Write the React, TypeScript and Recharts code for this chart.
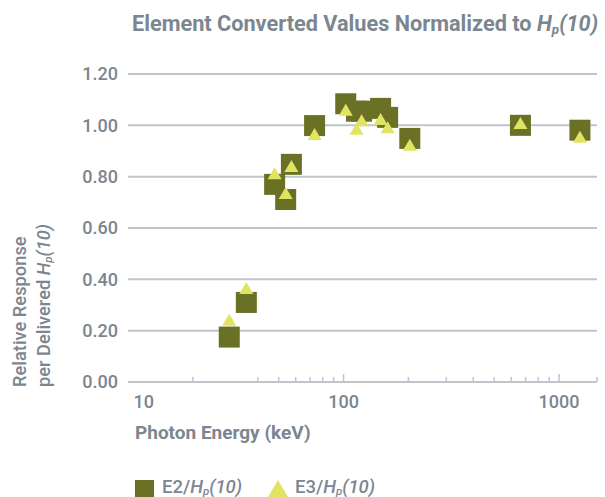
import { ScatterChart, Scatter, XAxis, YAxis, CartesianGrid } from 'recharts';

const energies = [29.5, 35.4, 47.9, 53.9, 57.3, 73.4, 102.4, 114.9, 121.3, 148.6, 160.2, 203, 662, 1250];
const e2Values = [0.175, 0.31, 0.77, 0.711, 0.848, 0.999, 1.084, 1.055, 1.055, 1.066, 1.031, 0.949, 1.0, 0.981];
const e3Values = [0.235, 0.358, 0.806, 0.729, 0.834, 0.958, 1.053, 0.979, 1.012, 1.017, 0.985, 0.917, 1.001, 0.948];
const xTicks = [10, 20, 40, 50, 60, 70, 80, 90, 100, 200, 300, 400, 500, 600, 700, 800, 900, 1000, 1500];
const xLabels = [10, 100, 1000];
const xMajor = [100, 1000];
const yTicks = [0, 0.2, 0.4, 0.6, 0.8, 1.0, 1.2];

const e2Data = energies.map((x, i) => ({ x, y: e2Values[i] }));
const e3Data = energies.map((x, i) => ({ x, y: e3Values[i] }));

const TEXT = '#7b8691';
const GRID = '#bec5cc';
const OLIVE = '#6b7124';
const LIME = '#e1e463';
const FONT = 'Roboto, sans-serif';

const Square = ({ cx, cy }: any) => <rect x={cx - 10.5} y={cy - 10.5} width={21} height={21} fill={OLIVE} />;
const Tri = ({ cx, cy }: any) => (
  <polygon points={`${cx - 7},${cy + 4} ${cx + 7},${cy + 4} ${cx},${cy - 8}`} fill={LIME} />
);

const XTick = ({ x, y, payload }: any) => {
  const v = payload.value;
  const major = xMajor.includes(v);
  return (
    <g>
      {v !== 10 && <line x1={x} x2={x} y1={y} y2={y - (major ? 8 : 5)} stroke={GRID} strokeWidth={1.5} />}
      {xLabels.includes(v) && (
        <text x={v === 10 ? x + 5.5 : x} y={y + 26} textAnchor={v === 10 ? 'start' : 'middle'} fill={TEXT} fontSize={18} fontWeight={500} fontFamily={FONT}>
          {v}
        </text>
      )}
    </g>
  );
};

const Hp = ({ size }: { size: number }) => (
  <>
    <tspan fontStyle="italic">H</tspan>
    <tspan fontStyle="italic" fontSize={size * 0.62} dy={size * 0.12}>p</tspan>
    <tspan fontStyle="italic" dy={-size * 0.12}>(10)</tspan>
  </>
);

export default function App() {
  return (
    <div style={{ position: 'absolute', left: 0, top: 0, width: 605, height: 497, background: '#fff', overflow: 'hidden' }}>
      <ScatterChart width={605} height={497} margin={{ top: 74, right: 8, bottom: 85, left: 0 }}>
        <CartesianGrid vertical={false} stroke={GRID} strokeWidth={2} />
        <XAxis
          dataKey="x"
          type="number"
          scale="log"
          domain={[10, 1500]}
          ticks={xTicks}
          interval={0}
          allowDataOverflow
          height={30}
          tickSize={0}
          tickMargin={0}
          tickLine={false}
          axisLine={{ stroke: GRID, strokeWidth: 2 }}
          tick={<XTick />}
        />
        <YAxis
          dataKey="y"
          type="number"
          domain={[0, 1.2]}
          ticks={yTicks}
          width={128}
          tickSize={10}
          tickMargin={0}
          tickLine={false}
          axisLine={false}
          tickFormatter={(v: number) => v.toFixed(2)}
          tick={{ fill: TEXT, fontSize: 18, fontWeight: 500, fontFamily: FONT }}
        />
        <Scatter data={e2Data} shape={<Square />} isAnimationActive={false} />
        <Scatter data={e3Data} shape={<Tri />} isAnimationActive={false} />
      </ScatterChart>
      <svg width={605} height={497} style={{ position: 'absolute', left: 0, top: 0, pointerEvents: 'none' }} fontFamily={FONT}>
        <text x={132} y={31} fill={TEXT} fontSize={21.7} fontWeight={700}>
          Element Converted Values Normalized to <Hp size={21.7} />
        </text>
        <g transform="rotate(-90)" fill={TEXT} fontSize={18.3} fontWeight={500}>
          <text x={-387} y={26}>Relative Response</text>
          <text x={-387} y={50}>
            per Delivered <Hp size={18.3} />
          </text>
        </g>
        <text x={135} y={439} fill={TEXT} fontSize={19} fontWeight={700}>Photon Energy (keV)</text>
        <rect x={135} y={480} width={19} height={17} fill={OLIVE} />
        <text x={162} y={492.5} fill={TEXT} fontSize={18.5} fontWeight={500}>
          E2/<Hp size={18.5} />
        </text>
        <polygon points="268,497 288,497 278,480" fill={LIME} />
        <text x={295} y={492.5} fill={TEXT} fontSize={18.5} fontWeight={500}>
          E3/<Hp size={18.5} />
        </text>
      </svg>
    </div>
  );
}
